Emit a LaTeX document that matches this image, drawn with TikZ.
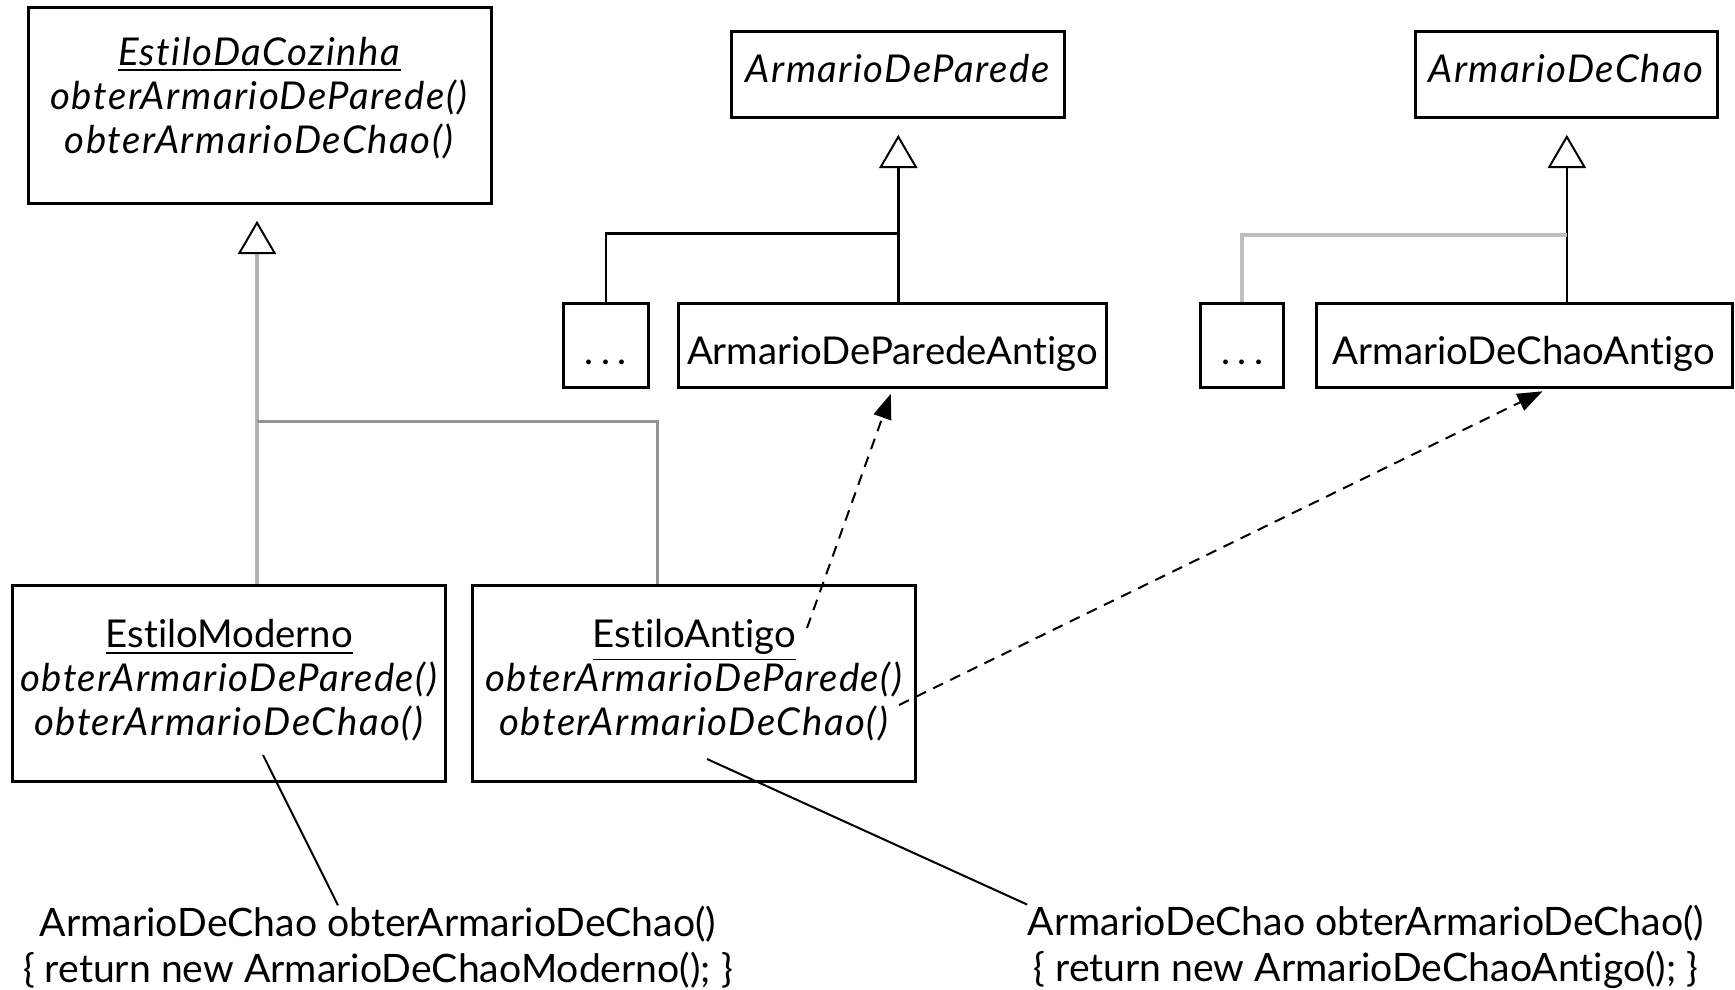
\documentclass[tikz,border=0pt]{standalone}
\usepackage{fontspec}
\setmainfont{Lato}[Ligatures={NoCommon},ItalicFeatures={LetterSpace=4}]
\usepackage{tikz}
\usetikzlibrary{arrows.meta}

\begin{document}
\begin{tikzpicture}[x=0.3pt,y=0.3pt,yscale=-1,xscale=1,
  classe/.style={draw,rectangle,line width=0.9pt,inner sep=0pt,align=center,font=\fontsize{11.5}{13.2}\selectfont},
  topo/.style={classe,minimum height=25.7pt,text height=8.5pt,text depth=3.8pt},
  sub/.style={classe,minimum height=25.1pt,text height=13.8pt,text depth=2.3pt},
  heranca/.style={line width=0.75pt,shorten >=4.8pt,-{Triangle[open,fill=white,color=black,length=10pt,width=11.5pt,line width=0.6pt]}},
  linhacinza/.style={draw=gray!60,line width=1.3pt},
  dependencia/.style={dash pattern=on 3.3pt off 2.4pt,line width=0.6pt,-{Triangle[length=7.5pt,width=5.5pt]}},
  nota/.style={line width=0.6pt},
  codigo/.style={align=center,inner sep=0pt,font=\fontsize{11.75}{13.8}\selectfont}]
\useasboundingbox (0,0) rectangle (1735,990);

%Shape: Rectangle [EstiloDaCozinha]
\node [classe,minimum width=138.8pt,minimum height=58.8pt] (cozinha) at (259.7,105.3)
  {\underline{\textit{EstiloDaCozinha}}\\ \textit{obterArmarioDeParede()}\\ \textit{obterArmarioDeChao()}\rule[-6.2pt]{0pt}{0pt}};
%Shape: Rectangle [ArmarioDeParede]
\node [topo,minimum width=100pt] (parede) at (898.3,74.5) {\textit{ArmarioDeParede}};
%Shape: Rectangle [ArmarioDeChao]
\node [topo,minimum width=90.7pt] (chao) at (1566.8,74.5) {\textit{ArmarioDeChao}};

%Shape: Rectangle [subclasses]
\node [sub,minimum width=25.5pt] (outroParede) at (605.8,345.8) {.\hspace{2.2pt}.\hspace{2.2pt}.};
\node [sub,minimum width=128.5pt] (paredeAntigo) at (892.5,345.8) {ArmarioDeParedeAntigo};
\node [sub,minimum width=25pt] (outroChao) at (1242.3,345.8) {.\hspace{2.2pt}.\hspace{2.2pt}.};
\node [sub,minimum width=124.8pt] (chaoAntigo) at (1524,345.8) {ArmarioDeChaoAntigo};

%Shape: Rectangle [estilos concretos]
\node [classe,minimum width=130pt,minimum height=58.7pt] (moderno) at (229.3,683.8)
  {\underline{EstiloModerno}\\ \textit{obterArmarioDeParede()}\\ \textit{obterArmarioDeChao()}\rule[-3.6pt]{0pt}{0pt}};
\node [classe,minimum width=133pt,minimum height=58.7pt] (antigo) at (694.3,683.8)
  {\underline{EstiloAntigo}\\ \textit{obterArmarioDeParede()}\\ \textit{obterArmarioDeChao()}\rule[-3.6pt]{0pt}{0pt}};

% Text Node
\node [codigo] (codModerno) at (378,947)
  {ArmarioDeChao obterArmarioDeChao()\\ \{ return new ArmarioDeChaoModerno(); \}};
% Text Node
\node [codigo] (codAntigo) at (1366,947)
  {ArmarioDeChao obterArmarioDeChao()\\ \{ return new ArmarioDeChaoAntigo(); \}};

%Straight Lines [heranca EstiloDaCozinha]
\coordinate (jCozinha) at (257,421.6);
\coordinate (jAntigo) at (657,421.6);
\draw [heranca,linhacinza] (moderno.north -| jCozinha) -- (cozinha.south -| jCozinha);
\draw [linhacinza,draw=gray!85,line width=0.9pt] (jCozinha) -- (jAntigo) -- (antigo.north -| jAntigo);

%Straight Lines [heranca ArmarioDeParede]
\coordinate (jParede) at (898.3,233.3);
\draw [heranca] (paredeAntigo.north -| parede.south) -- (parede.south);
\draw [line width=0.75pt] (outroParede.north) |- (jParede);

%Straight Lines [heranca ArmarioDeChao]
\coordinate (jChao) at (1566.8,235.3);
\draw [heranca] (chaoAntigo.north -| chao.south) -- (chao.south);
\draw [linhacinza,draw=gray!50] (outroChao.north) |- (jChao);

%Dashed Lines [dependencias]
\coordinate (dParede) at (807,628);
\coordinate (dChao) at (899,705);
\draw [dependencia,shorten >=1.5pt] (dParede) -- (paredeAntigo.south);
\draw [dependencia,shorten >=1.5pt] (dChao) -- ([xshift=6.9pt]chaoAntigo.south);

%Straight Lines [notas]
\coordinate (nModerno) at (263,755);
\coordinate (nAntigo) at (707,759);
\draw [nota] (nModerno) -- ([xshift=-12pt]codModerno.north);
\draw [nota] (nAntigo) -- (codAntigo.north west);

\end{tikzpicture}
\end{document}
